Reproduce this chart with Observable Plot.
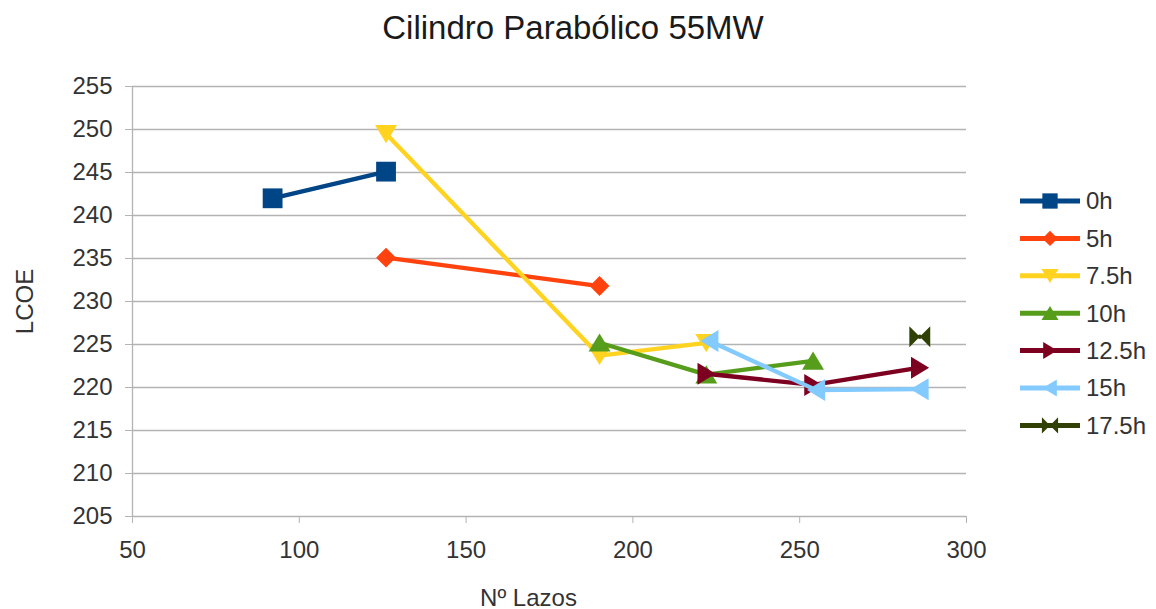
<!DOCTYPE html>
<html><head><meta charset="utf-8">
<script src="https://cdn.jsdelivr.net/npm/d3@7"></script>
<script src="https://cdn.jsdelivr.net/npm/@observablehq/plot@0.6"></script>
<style>
body{margin:0;background:#fff;font-family:"Liberation Sans",Arial,sans-serif;}
#wrap{position:relative;width:1156px;height:609px;overflow:hidden;}
#title{position:absolute;left:0;top:8px;width:1146px;text-align:center;font-size:33px;color:#1a1a1a;line-height:1.2;}
#chart{position:absolute;left:0;top:0;}
#legend{position:absolute;left:1010px;top:180px;}
</style></head><body>
<div id="wrap"><div id="chart"></div><div id="title"></div><div id="legend"></div></div>
<script>
const titulo = "Cilindro Parabólico 55MW";
const xLabel = "Nº Lazos";
const yLabel = "LCOE";
const seriesNames = ["0h", "5h", "7.5h", "10h", "12.5h", "15h", "17.5h"];
const lazos = [
  [92, 126],
  [126, 190],
  [126, 190, 222],
  [190, 222, 254],
  [222, 254, 286],
  [223, 255, 286],
  [286]
];
const lcoe = [
  [242.0, 245.1],
  [235.1, 231.8],
  [249.5, 223.7, 225.2],
  [225.2, 221.5, 223.1],
  [221.6, 220.3, 222.3],
  [225.4, 219.7, 219.8],
  [225.9]
];
const colors = ["#004586", "#ff420e", "#ffd320", "#579d1c", "#7e0021", "#83caff", "#314004"];
const xTicks = [50, 100, 150, 200, 250, 300];
const yTicks = [205, 210, 215, 220, 225, 230, 235, 240, 245, 250, 255];

document.getElementById("title").textContent = titulo;

// custom marker shapes (d3 symbol type objects)
const poly = (pts) => ({
  draw(ctx, size) {
    const r = Math.sqrt(size / Math.PI);
    pts.forEach((shape) => {
      shape.forEach(([a, b], i) => (i ? ctx.lineTo(a * r, b * r) : ctx.moveTo(a * r, b * r)));
      ctx.closePath();
    });
  }
});
const symbols = [
  poly([[[-0.9, -0.9], [0.9, -0.9], [0.9, 0.9], [-0.9, 0.9]]]),           // square
  poly([[[0, -0.9], [0.9, 0], [0, 0.9], [-0.9, 0]]]),                     // diamond
  poly([[[-1, -0.8], [1, -0.8], [0, 0.85]]]),                              // down triangle
  poly([[[-1, 0.8], [1, 0.8], [0, -0.85]]]),                               // up triangle
  poly([[[-0.8, -1], [-0.8, 1], [0.85, 0]]]),                              // right triangle
  poly([[[0.8, -1], [0.8, 1], [-0.85, 0]]]),                               // left triangle
  poly([[[-0.95, -0.95], [0, 0], [-0.95, 0.95]], [[0.95, -0.95], [0, 0], [0.95, 0.95]], [[-0.12,-0.14],[0.12,-0.14],[0.12,0.14],[-0.12,0.14]]]) // bowtie
];

const rows = seriesNames.flatMap((s, i) => lazos[i].map((x, j) => ({serie: s, lazos: x, lcoe: lcoe[i][j]})));

const seriesMarks = seriesNames.flatMap((s, i) => {
  const d = rows.filter((r) => r.serie === s);
  return [
    Plot.line(d, {x: "lazos", y: "lcoe", stroke: colors[i], strokeWidth: 4.3, strokeLinejoin: "round"}),
    Plot.dot(d, {x: "lazos", y: "lcoe", symbol: symbols[i], fill: colors[i], stroke: "none", r: 11})
  ];
});

const chart = Plot.plot({
  width: 1156,
  height: 609,
  marginLeft: 132,
  marginRight: 190,
  marginTop: 86,
  marginBottom: 93,
  style: {fontFamily: "Liberation Sans, Arial, sans-serif", fontSize: "24px", background: "#fff", color: "#333"},
  x: {domain: [50, 300]},
  y: {domain: [205, 255]},
  marks: [
    Plot.ruleY(yTicks, {y: (d) => d, stroke: "#b3b3b3", strokeWidth: 1.3}),
    Plot.ruleX([50], {x: (d) => d, stroke: "#b3b3b3", strokeWidth: 1.3}),
    Plot.axisY({ticks: yTicks, tickSize: 7, tickPadding: 13, stroke: "#b3b3b3", fill: "#333", fontSize: 24,
      label: yLabel, labelAnchor: "center", labelArrow: "none", labelOffset: 117}),
    Plot.axisX({ticks: xTicks, tickSize: 7, tickPadding: 17, stroke: "#b3b3b3", fill: "#333", fontSize: 24, label: null}),
    Plot.text([xLabel], {text: (d) => d, frameAnchor: "bottom", dy: 89, dx: -21, fill: "#333", fontSize: 24, lineAnchor: "bottom"}),
    ...seriesMarks
  ]
});
document.getElementById("chart").appendChild(chart);

// legend
const lg = d3.select("#legend").append("svg").attr("width", 146).attr("height", 270);
const items = lg.selectAll("g").data(seriesNames).join("g")
  .attr("transform", (d, i) => `translate(0,${21 + i * 37.4})`);
items.append("line").attr("x1", 10).attr("x2", 70).attr("y1", 0).attr("y2", 0)
  .attr("stroke", (d, i) => colors[i]).attr("stroke-width", 5);
items.append("path").attr("transform", "translate(40,0)")
  .attr("d", (d, i) => d3.symbol(symbols[i], Math.PI * 8.5 * 8.5)())
  .attr("fill", (d, i) => colors[i]);
items.append("text").attr("x", 76).attr("y", 0).attr("dy", "0.35em")
  .attr("font-size", 24).attr("fill", "#333").attr("font-family", "Liberation Sans, Arial, sans-serif")
  .text((d) => d);
</script>
</body></html>
